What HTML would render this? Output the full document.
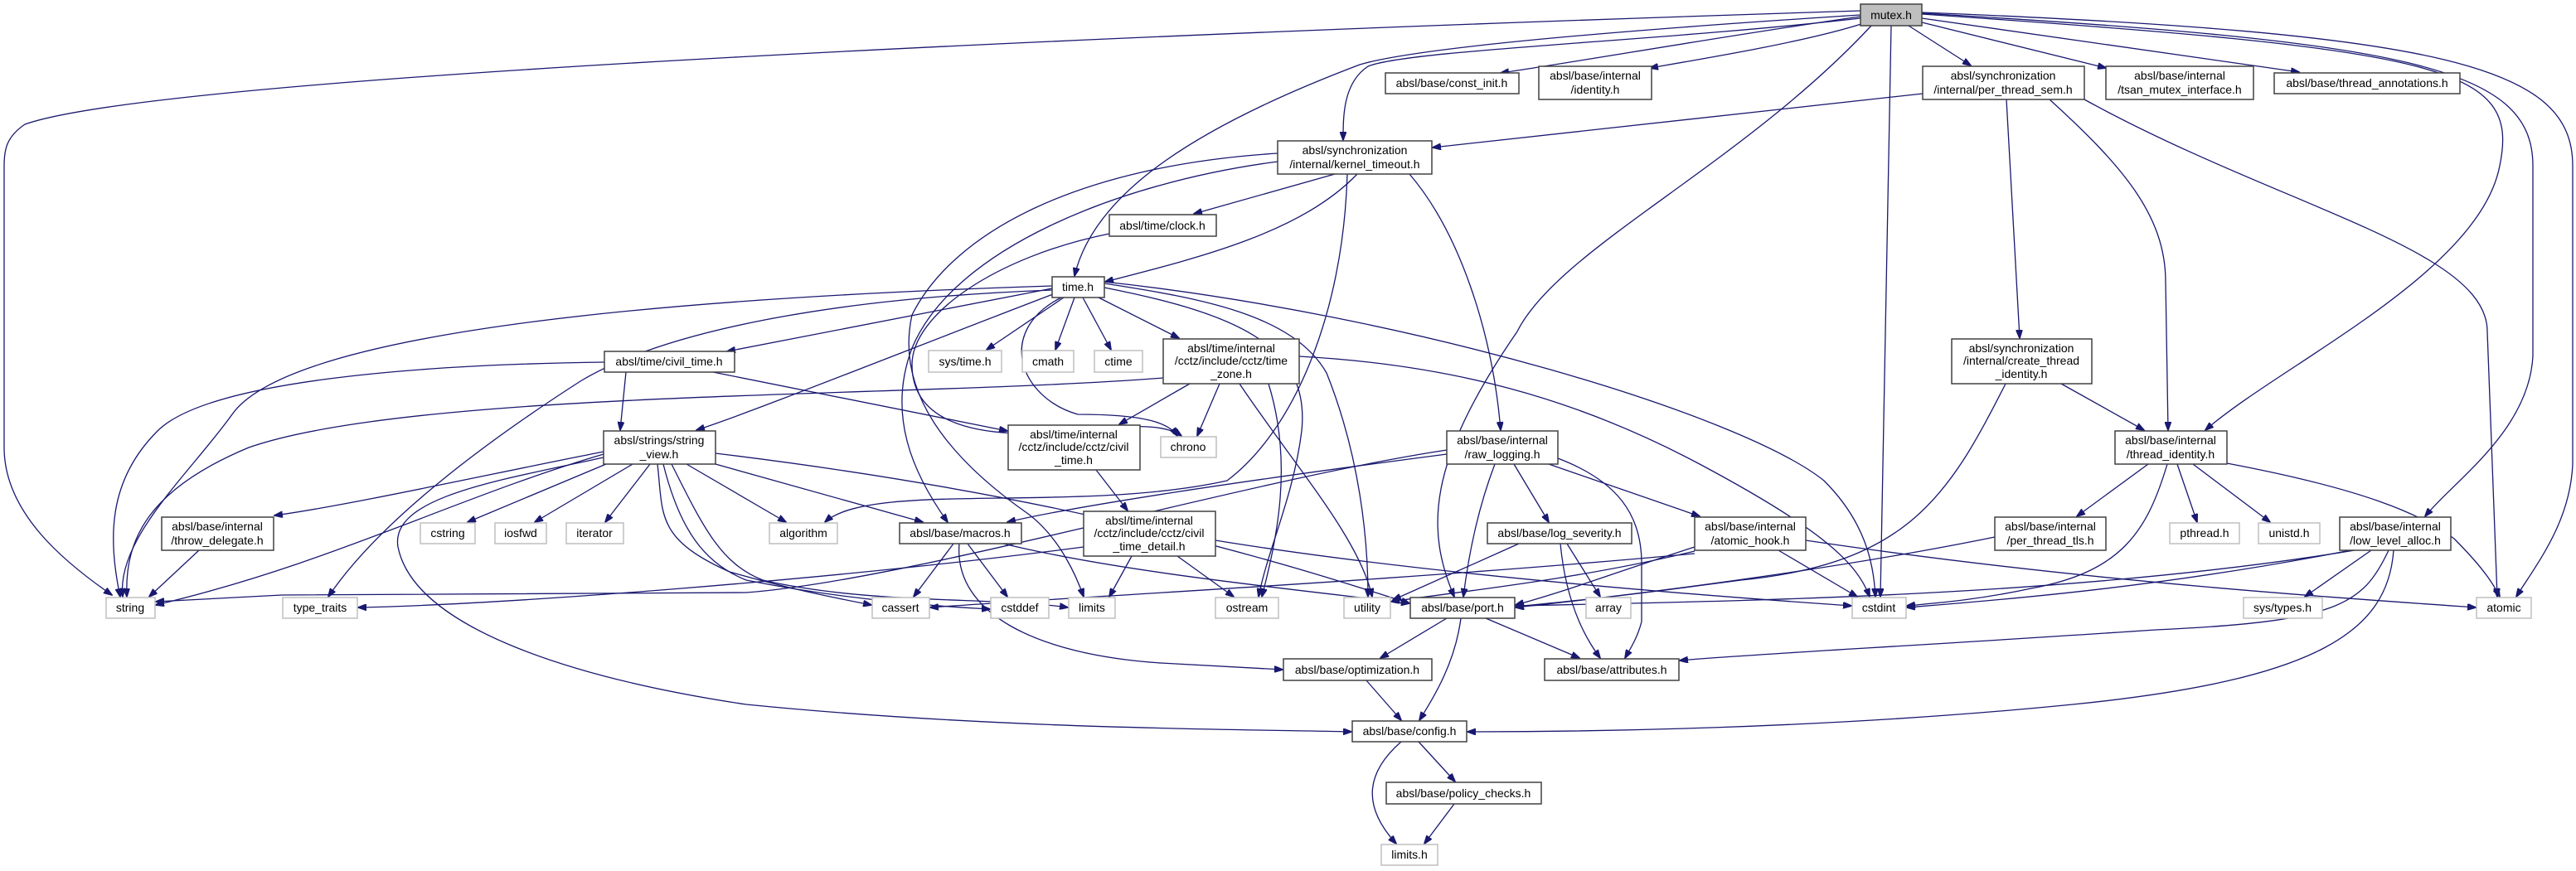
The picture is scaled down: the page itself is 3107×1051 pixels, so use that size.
<!DOCTYPE html>
<html><head><meta charset="utf-8"><style>
html,body{margin:0;padding:0;background:#fff;}
svg{display:block;}
text{font-family:"Liberation Sans",sans-serif;font-size:14px;fill:#000;text-anchor:middle;}
.n{fill:#fff;stroke:#404040;stroke-width:1.5;}
.l{fill:#fff;stroke:#bfbfbf;stroke-width:1.5;}
.r{fill:#bfbfbf;stroke:#404040;stroke-width:1.5;}
path.e{fill:none;stroke:#191970;stroke-width:1.3;marker-end:url(#a);}
</style></head><body>
<svg width="3107" height="1051" viewBox="0 0 3107 1051" xmlns="http://www.w3.org/2000/svg">
<defs><marker id="a" markerUnits="userSpaceOnUse" markerWidth="11" markerHeight="8" refX="10" refY="4" orient="auto"><path d="M0,0 L11,4 L0,8 z" fill="#191970" stroke="#191970"/></marker></defs>
<g>
<!-- mutex edges -->
<path class="e" d="M2244,13 C1400,40 200,90 30,150 C8,165 5,180 5,200 L5,540 C5,620 80,680 135,718"/>
<path class="e" d="M2244,20 C2100,40 1900,75 1810,88"/>
<path class="e" d="M2248,28 C2180,50 2060,70 1990,82"/>
<path class="e" d="M2244,22 C2000,50 1700,60 1650,80 C1620,100 1620,140 1620,169"/>
<path class="e" d="M2244,18 C1900,40 1700,60 1640,78 C1450,150 1320,230 1296,333"/>
<path class="e" d="M2257,31 C2100,200 1880,300 1830,400 C1720,560 1720,640 1754,720"/>
<path class="e" d="M2281,31 L2268,720"/>
<path class="e" d="M2302,31 L2377,79"/>
<path class="e" d="M2318,27 L2540,82"/>
<path class="e" d="M2318,22 L2773,87"/>
<path class="e" d="M2318,17 C2950,60 3040,80 3015,200 C2990,330 2750,440 2660,519"/>
<path class="e" d="M2318,16 C2900,50 3055,80 3055,200 L3055,430 C3050,520 2960,580 2925,623"/>
<path class="e" d="M2318,15 C2950,40 3103,80 3103,200 L3103,560 C3100,630 3060,680 3035,720"/>
<!-- per_thread_sem -->
<path class="e" d="M2514,120 C2750,250 3000,300 3000,400 L3012,720"/>
<path class="e" d="M2472,120 C2560,200 2612,260 2612,340 L2615,519"/>
<path class="e" d="M2420,120 L2436,408"/>
<path class="e" d="M2319,113 L1728,178"/>
<!-- kernel_timeout -->
<path class="e" d="M1610,210 L1440,258"/>
<path class="e" d="M1637,210 C1570,280 1450,310 1333,340"/>
<path class="e" d="M1541,195 C1350,220 1150,300 1100,420 C1070,500 1100,570 1143,630"/>
<path class="e" d="M1541,185 C1300,200 1150,280 1100,380 C1080,470 1140,550 1240,620 C1280,650 1300,700 1307,720"/>
<path class="e" d="M1625,210 C1620,380 1560,520 1480,580 C1300,620 1050,580 995,630"/>
<path class="e" d="M1700,210 C1760,280 1800,400 1810,519"/>
<!-- clock -->
<path class="e" d="M1338,282 C1200,310 1100,380 1100,440 C1100,520 1200,530 1300,520 C1380,510 1410,515 1425,526"/>
<!-- time.h -->
<path class="e" d="M1269,345 C800,360 350,400 280,500 C230,570 140,650 148,720"/>
<path class="e" d="M1269,348 L877,424"/>
<path class="e" d="M1270,355 C1100,420 900,500 840,519"/>
<path class="e" d="M1283,359 L1190,422"/>
<path class="e" d="M1296,359 L1273,422"/>
<path class="e" d="M1306,359 L1340,422"/>
<path class="e" d="M1325,359 L1422,408"/>
<path class="e" d="M1269,350 C1000,360 800,400 700,460 C560,550 450,640 396,720"/>
<path class="e" d="M1280,359 C1200,400 1230,480 1300,500 C1380,500 1410,510 1420,526"/>
<path class="e" d="M1332,342 C1450,360 1560,380 1600,450 C1640,550 1650,650 1650,720"/>
<path class="e" d="M1332,347 C1500,380 1580,420 1570,520 C1560,600 1530,660 1518,720"/>
<path class="e" d="M1332,340 C1700,380 2100,500 2200,580 C2250,630 2260,680 2262,720"/>
<!-- civil_time -->
<path class="e" d="M729,437 C500,440 250,460 190,520 C130,580 130,650 145,720"/>
<path class="e" d="M755,449 L748,519"/>
<path class="e" d="M860,449 L1215,520"/>
<!-- time_zone -->
<path class="e" d="M1403,456 C1100,480 500,470 300,540 C180,590 150,650 153,720"/>
<path class="e" d="M1435,463 L1350,512"/>
<path class="e" d="M1471,463 L1444,526"/>
<path class="e" d="M1495,463 C1560,560 1640,650 1655,720"/>
<path class="e" d="M1530,463 C1560,560 1540,650 1522,720"/>
<path class="e" d="M1567,430 C1750,440 1900,480 2050,560 C2200,640 2240,680 2255,720"/>
<!-- cctz civil_time -->
<path class="e" d="M1322,567 L1360,616"/>
<!-- detail -->
<path class="e" d="M1365,671 L1338,720"/>
<path class="e" d="M1420,671 L1488,720"/>
<path class="e" d="M1307,660 C1000,700 600,730 432,733"/>
<path class="e" d="M1466,652 C1700,690 2000,715 2233,731"/>
<!-- string_view -->
<path class="e" d="M728,548 C550,600 400,680 188,730"/>
<path class="e" d="M728,545 C600,570 420,610 331,622"/>
<path class="e" d="M731,560 L564,630"/>
<path class="e" d="M763,560 L645,630"/>
<path class="e" d="M784,560 L730,630"/>
<path class="e" d="M828,560 L948,630"/>
<path class="e" d="M863,560 L1113,630"/>
<path class="e" d="M793,560 C800,620 790,650 880,690 C950,710 1000,720 1051,730"/>
<path class="e" d="M800,560 C820,640 850,680 900,700 C1000,720 1100,730 1194,735"/>
<path class="e" d="M810,560 C850,640 870,680 920,700 C1050,730 1200,720 1288,733"/>
<path class="e" d="M863,547 C1300,600 1550,680 1700,728"/>
<path class="e" d="M728,552 C600,580 470,600 480,660 C500,760 700,820 900,850 C1200,880 1500,880 1630,883"/>
<!-- throw_delegate -->
<path class="e" d="M240,664 L180,720"/>
<!-- macros -->
<path class="e" d="M1150,656 L1102,720"/>
<path class="e" d="M1167,656 L1215,720"/>
<path class="e" d="M1157,656 C1150,740 1250,790 1400,800 L1547,808"/>
<path class="e" d="M1210,656 C1350,690 1550,710 1700,728"/>
<!-- raw_logging -->
<path class="e" d="M1745,543 C1500,580 1100,700 900,715 L340,718 L188,726"/>
<path class="e" d="M1745,548 C1500,580 1300,610 1215,630"/>
<path class="e" d="M1803,560 C1780,620 1770,680 1765,720"/>
<path class="e" d="M1826,560 L1868,630"/>
<path class="e" d="M1868,560 L2050,623"/>
<path class="e" d="M1879,553 C1950,580 1980,620 1980,680 L1980,750 C1975,770 1965,785 1960,794"/>
<!-- log_severity -->
<path class="e" d="M1832,656 L1680,724"/>
<path class="e" d="M1890,656 L1930,720"/>
<path class="e" d="M1882,656 C1890,740 1920,780 1930,794"/>
<!-- atomic_hook -->
<path class="e" d="M2044,660 C1950,690 1900,710 1828,730"/>
<path class="e" d="M2044,665 C1900,700 1750,715 1678,726"/>
<path class="e" d="M2145,664 L2240,720"/>
<path class="e" d="M2178,652 C2500,700 2800,720 2986,733"/>
<path class="e" d="M2044,668 C1700,700 1300,720 1122,733"/>
<!-- port -->
<path class="e" d="M1745,746 L1665,794"/>
<path class="e" d="M1762,746 C1755,800 1730,840 1712,869"/>
<path class="e" d="M1792,746 L1905,794"/>
<path class="e" d="M1648,821 L1690,869"/>
<path class="e" d="M1711,895 L1755,943"/>
<path class="e" d="M1690,895 C1650,930 1640,970 1684,1018"/>
<path class="e" d="M1754,970 L1718,1018"/>
<!-- create_thread_identity -->
<path class="e" d="M2486,463 L2586,519"/>
<path class="e" d="M2419,463 C2350,600 2300,680 2100,700 C1950,720 1900,725 1828,732"/>
<!-- thread_identity -->
<path class="e" d="M2591,560 L2505,623"/>
<path class="e" d="M2626,560 L2650,630"/>
<path class="e" d="M2645,560 L2738,630"/>
<path class="e" d="M2686,559 C2850,590 2920,620 2960,650 C3000,690 3010,710 3015,720"/>
<path class="e" d="M2614,560 C2590,640 2560,690 2450,710 C2380,725 2330,728 2300,731"/>
<path class="e" d="M2406,648 C2200,690 1950,720 1828,733"/>
<!-- low_level_alloc -->
<path class="e" d="M2840,664 C2500,720 2100,725 1828,731"/>
<path class="e" d="M2835,664 C2600,710 2400,725 2300,733"/>
<path class="e" d="M2860,664 L2780,720"/>
<path class="e" d="M2881,664 C2850,730 2820,750 2600,760 C2300,780 2100,790 2026,797"/>
<path class="e" d="M2887,664 C2880,760 2800,820 2500,850 C2200,880 1900,883 1770,883"/>
</g>
<g>
<rect class="r" x="2244" y="5" width="74" height="26"/><text x="2281" y="23">mutex.h</text>
<rect class="n" x="1671" y="88" width="161" height="25"/><text x="1751" y="105">absl/base/const_init.h</text>
<rect class="n" x="1856" y="80" width="136" height="40"/><text x="1924" y="96">absl/base/internal</text><text x="1924" y="113">/identity.h</text>
<rect class="n" x="2319" y="80" width="195" height="40"/><text x="2416" y="96">absl/synchronization</text><text x="2416" y="113">/internal/per_thread_sem.h</text>
<rect class="n" x="2540" y="80" width="178" height="40"/><text x="2629" y="96">absl/base/internal</text><text x="2629" y="113">/tsan_mutex_interface.h</text>
<rect class="n" x="2743" y="88" width="224" height="25"/><text x="2855" y="105">absl/base/thread_annotations.h</text>
<rect class="n" x="1541" y="170" width="186" height="40"/><text x="1634" y="186">absl/synchronization</text><text x="1634" y="203">/internal/kernel_timeout.h</text>
<rect class="n" x="1338" y="259" width="129" height="26"/><text x="1402" y="277">absl/time/clock.h</text>
<rect class="n" x="1269" y="334" width="63" height="25"/><text x="1300" y="351">time.h</text>
<rect class="n" x="729" y="424" width="157" height="25"/><text x="807" y="441">absl/time/civil_time.h</text>
<rect class="l" x="1120" y="423" width="88" height="26"/><text x="1164" y="441">sys/time.h</text>
<rect class="l" x="1233" y="423" width="62" height="26"/><text x="1264" y="441">cmath</text>
<rect class="l" x="1320" y="423" width="58" height="26"/><text x="1349" y="441">ctime</text>
<rect class="n" x="1403" y="409" width="164" height="54"/><text x="1485" y="425">absl/time/internal</text><text x="1485" y="440">/cctz/include/cctz/time</text><text x="1485" y="456">_zone.h</text>
<rect class="n" x="2354" y="409" width="169" height="54"/><text x="2438" y="425">absl/synchronization</text><text x="2438" y="440">/internal/create_thread</text><text x="2438" y="456">_identity.h</text>
<rect class="n" x="728" y="520" width="135" height="40"/><text x="795" y="536">absl/strings/string</text><text x="795" y="553">_view.h</text>
<rect class="n" x="1216" y="513" width="159" height="54"/><text x="1295" y="529">absl/time/internal</text><text x="1295" y="544">/cctz/include/cctz/civil</text><text x="1295" y="560">_time.h</text>
<rect class="l" x="1400" y="527" width="67" height="25"/><text x="1433" y="544">chrono</text>
<rect class="n" x="1745" y="520" width="134" height="40"/><text x="1812" y="536">absl/base/internal</text><text x="1812" y="553">/raw_logging.h</text>
<rect class="n" x="2551" y="520" width="135" height="40"/><text x="2618" y="536">absl/base/internal</text><text x="2618" y="553">/thread_identity.h</text>
<rect class="n" x="195" y="624" width="135" height="40"/><text x="262" y="640">absl/base/internal</text><text x="262" y="657">/throw_delegate.h</text>
<rect class="l" x="507" y="631" width="66" height="25"/><text x="540" y="648">cstring</text>
<rect class="l" x="597" y="631" width="62" height="25"/><text x="628" y="648">iosfwd</text>
<rect class="l" x="683" y="631" width="69" height="25"/><text x="717" y="648">iterator</text>
<rect class="l" x="928" y="631" width="82" height="25"/><text x="969" y="648">algorithm</text>
<rect class="n" x="1085" y="631" width="147" height="25"/><text x="1158" y="648">absl/base/macros.h</text>
<rect class="n" x="1307" y="617" width="159" height="54"/><text x="1386" y="633">absl/time/internal</text><text x="1386" y="648">/cctz/include/cctz/civil</text><text x="1386" y="664">_time_detail.h</text>
<rect class="n" x="1794" y="631" width="174" height="25"/><text x="1881" y="648">absl/base/log_severity.h</text>
<rect class="n" x="2044" y="624" width="134" height="40"/><text x="2111" y="640">absl/base/internal</text><text x="2111" y="657">/atomic_hook.h</text>
<rect class="n" x="2406" y="624" width="134" height="40"/><text x="2473" y="640">absl/base/internal</text><text x="2473" y="657">/per_thread_tls.h</text>
<rect class="l" x="2617" y="631" width="84" height="25"/><text x="2659" y="648">pthread.h</text>
<rect class="l" x="2724" y="631" width="74" height="25"/><text x="2761" y="648">unistd.h</text>
<rect class="n" x="2822" y="624" width="134" height="40"/><text x="2889" y="640">absl/base/internal</text><text x="2889" y="657">/low_level_alloc.h</text>
<rect class="l" x="128" y="721" width="59" height="25"/><text x="157" y="738">string</text>
<rect class="l" x="341" y="721" width="90" height="25"/><text x="386" y="738">type_traits</text>
<rect class="l" x="1052" y="721" width="69" height="25"/><text x="1086" y="738">cassert</text>
<rect class="l" x="1195" y="721" width="70" height="25"/><text x="1230" y="738">cstddef</text>
<rect class="l" x="1289" y="721" width="56" height="25"/><text x="1317" y="738">limits</text>
<rect class="l" x="1466" y="721" width="76" height="25"/><text x="1504" y="738">ostream</text>
<rect class="l" x="1621" y="721" width="56" height="25"/><text x="1649" y="738">utility</text>
<rect class="n" x="1701" y="721" width="126" height="25"/><text x="1764" y="738">absl/base/port.h</text>
<rect class="l" x="1913" y="721" width="54" height="25"/><text x="1940" y="738">array</text>
<rect class="l" x="2234" y="721" width="65" height="25"/><text x="2266" y="738">cstdint</text>
<rect class="l" x="2706" y="721" width="95" height="25"/><text x="2753" y="738">sys/types.h</text>
<rect class="l" x="2987" y="721" width="66" height="25"/><text x="3020" y="738">atomic</text>
<rect class="n" x="1548" y="795" width="179" height="26"/><text x="1637" y="813">absl/base/optimization.h</text>
<rect class="n" x="1863" y="795" width="162" height="26"/><text x="1944" y="813">absl/base/attributes.h</text>
<rect class="n" x="1631" y="870" width="138" height="25"/><text x="1700" y="887">absl/base/config.h</text>
<rect class="n" x="1672" y="944" width="187" height="26"/><text x="1765" y="962">absl/base/policy_checks.h</text>
<rect class="l" x="1666" y="1019" width="68" height="25"/><text x="1700" y="1036">limits.h</text>
</g>
</svg>
</body></html>
